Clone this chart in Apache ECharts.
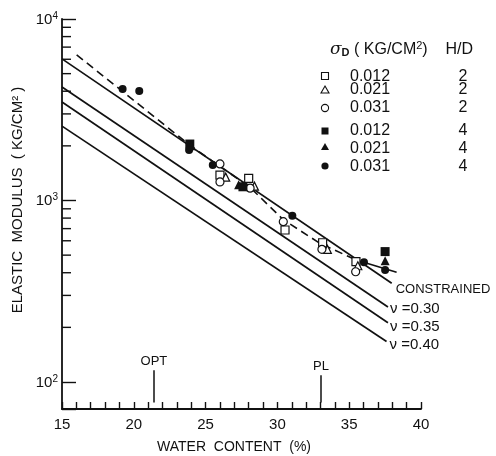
<!DOCTYPE html>
<html>
<head>
<meta charset="utf-8">
<script src="https://cdn.jsdelivr.net/npm/echarts@6/dist/echarts.min.js"></script>
<style>html,body{margin:0;padding:0;background:#fff;}#c{width:496px;height:456px;}</style>
</head>
<body>
<div id="c"></div>
<script>
// ---- axes ----
const xMin = 15, xMax = 40, xInterval = 5;
const yMin = 71, yMax = 10000;
const yMinorTicks = [200,300,400,500,600,700,800,900,2000,3000,4000,5000,6000,7000,8000,9000];

// ---- theoretical lines (water content %, modulus kg/cm2) ----
const lineNames = ['CONSTRAINED', 'ν =0.30', 'ν =0.35', 'ν =0.40'];
const lineConstrained = [[15, 6030], [37.96, 350]];
const lineNu030 = [[15, 4220], [37.7, 259]];
const lineNu035 = [[15, 3490], [37.7, 212]];
const lineNu040 = [[15, 2570], [37.6, 167]];

// ---- dashed trend through data, and short solid tail ----
const dashedTrend = [[16.02, 6350], [24, 1990], [28.1, 1180], [30.4, 785], [33, 578], [35.3, 478]];
const solidTail = [[36.0, 457], [38.3, 402]];

// ---- measured points: sigma_D (kg/cm2), H/D ----
const openSquare_0012_2 = [[26.0, 1380], [28.0, 1325], [30.53, 688], [33.15, 585], [35.47, 460]];
const openTriangle_0021_2 = [[26.4, 1345], [28.4, 1200], [33.48, 538], [35.6, 437]];
const openCircle_0031_2 = [[26.0, 1590], [26.0, 1265], [28.1, 1170], [30.41, 764], [33.1, 538], [35.45, 405]];
const filledSquare_0012_4 = [[23.9, 2047], [27.6, 1190], [37.5, 523]];
const filledTriangle_0021_4 = [[24.0, 2000], [27.3, 1220], [37.5, 466]];
const filledCircle_0031_4 = [[19.22, 4110], [20.38, 4010], [23.85, 1900], [25.5, 1570], [31.04, 824], [36.03, 457], [37.5, 414]];

// ---- reference markers ----
const markerNames = ['OPT', 'PL'];
const markerX = [21.4, 33.04];
const markerTop = [116, 109];
const markerBottom = [77, 77];

// ---- legend table ----
const legendStress = ['0.012', '0.021', '0.031', '0.012', '0.021', '0.031'];
const legendHD = ['2', '2', '2', '4', '4', '4'];
const legendShape = ['rect', 'triangle', 'circle', 'rect', 'triangle', 'circle'];
const legendFilled = [false, false, false, true, true, true];

const INK = '#111';
const FONT = 'Liberation Sans';

const chart = echarts.init(document.getElementById('c'), null, {renderer: 'canvas'});

function lineSeries(name, data, lbl, fs) {
  return {
    type: 'line', name: name, data: data, symbol: 'none', silent: true,
    lineStyle: {color: INK, width: 1.7},
    endLabel: {show: true, formatter: name, color: INK, fontFamily: FONT, fontSize: fs,
      align: 'left', verticalAlign: 'middle', offset: lbl, distance: 0},
    z: 3
  };
}
function scatterSeries(name, data, symbol, filled, size) {
  return {
    type: 'scatter', name: name, data: data, symbol: symbol, symbolSize: size,
    itemStyle: {color: filled ? INK : '#fff', borderColor: INK, borderWidth: filled ? 0 : 1.2, opacity: 1},
    z: 5
  };
}

// legend graphics
const rowY = [77, 90, 108, 131, 149, 167];
const symY = [76, 90, 108, 131, 147, 166];
const graphics = [];
graphics.push({
  type: 'text', left: 330, top: 40,
  style: {
    text: '{sig|σ}{sub|D}{t| ( KG/CM}{sup|2}{t|)    H/D}',
    fill: INK,
    rich: {
      sig: {fontFamily: 'DejaVu Serif', fontStyle: 'italic', fontSize: 17, lineHeight: 18, verticalAlign: 'bottom', fill: INK},
      sub: {fontFamily: FONT, fontWeight: 'bold', fontSize: 11, lineHeight: 11, verticalAlign: 'bottom', fill: INK},
      sup: {fontFamily: FONT, fontSize: 11, lineHeight: 11, verticalAlign: 'top', fill: INK},
      t: {fontFamily: FONT, fontSize: 16, lineHeight: 18, verticalAlign: 'bottom', fill: INK}
    }
  }
});
for (let i = 0; i < legendStress.length; i++) {
  const cx = 325, cy = symY[i];
  const st = {fill: legendFilled[i] ? INK : '#fff', stroke: INK, lineWidth: legendFilled[i] ? 0 : 1.1};
  if (legendShape[i] === 'rect') {
    graphics.push({type: 'rect', shape: {x: cx - 3.5, y: cy - 3.5, width: 7, height: 7}, style: st});
  } else if (legendShape[i] === 'triangle') {
    graphics.push({type: 'polygon', shape: {points: [[cx, cy - 4], [cx + 4, cy + 3], [cx - 4, cy + 3]]}, style: st});
  } else {
    graphics.push({type: 'circle', shape: {cx: cx, cy: cy, r: 3.6}, style: st});
  }
  graphics.push({type: 'text', x: 350, y: rowY[i], style: {text: legendStress[i], fill: INK, font: '16px ' + FONT, textVerticalAlign: 'middle'}});
  graphics.push({type: 'text', x: 463, y: rowY[i], style: {text: legendHD[i], fill: INK, font: '16px ' + FONT, textAlign: 'center', textVerticalAlign: 'middle'}});
}
// axis names
graphics.push({type: 'text', x: 234, y: 447, style: {text: 'WATER  CONTENT  (%)', fill: INK, font: '14px ' + FONT, textAlign: 'center', textVerticalAlign: 'middle'}});
graphics.push({type: 'text', x: 18, y: 200, rotation: Math.PI / 2, style: {text: 'ELASTIC  MODULUS  ( KG/CM² )', fill: INK, font: '15px ' + FONT, textAlign: 'center', textVerticalAlign: 'middle'}});

const markLines = markerNames.map((n, i) => [
  {coord: [markerX[i], markerTop[i]], name: n},
  {coord: [markerX[i], markerBottom[i]]}
]);

const option = {
  backgroundColor: '#fff',
  animation: false,
  grid: {left: 62, right: 75, top: 19, bottom: 47, containLabel: false},
  xAxis: {
    type: 'value', min: xMin, max: xMax, interval: xInterval,
    axisLine: {show: true, lineStyle: {color: INK, width: 1.8}},
    axisTick: {show: true, inside: true, length: 7, lineStyle: {color: INK, width: 1.4}},
    minorTick: {show: true, splitNumber: 5, length: 7, lineStyle: {color: INK, width: 1.4}},
    axisLabel: {color: INK, fontFamily: FONT, fontSize: 15, margin: 8},
    splitLine: {show: false}
  },
  yAxis: {
    type: 'log', logBase: 10, min: yMin, max: yMax,
    axisLine: {show: true, lineStyle: {color: INK, width: 1.8}},
    axisTick: {show: true, inside: true, length: 14, lineStyle: {color: INK, width: 1.4}},
    minorTick: {show: false},
    axisLabel: {
      margin: 4,
      formatter: function (v) {
        const l = Math.log10(v), e = Math.round(l);
        if (Math.abs(l - e) > 1e-6) return '';
        return '{b|10}{s|' + e + '}';
      },
      rich: {
        b: {fontFamily: FONT, fontSize: 15, lineHeight: 16, verticalAlign: 'bottom', color: INK},
        s: {fontFamily: FONT, fontSize: 10, lineHeight: 10, verticalAlign: 'top', color: INK}
      }
    },
    splitLine: {show: false}
  },
  graphic: graphics,
  series: [
    {
      type: 'custom', name: 'yMinor', silent: true, z: 2,
      data: yMinorTicks.map(v => [xMin, v]),
      renderItem: function (params, api) {
        const p = api.coord([api.value(0), api.value(1)]);
        return {type: 'line', shape: {x1: p[0], y1: p[1], x2: p[0] + 9, y2: p[1]}, style: {stroke: INK, lineWidth: 1.4}};
      }
    },
    lineSeries(lineNames[0], lineConstrained, [4, 6], 13),
    lineSeries(lineNames[1], lineNu030, [2, 2], 15),
    lineSeries(lineNames[2], lineNu035, [2, 4], 15),
    lineSeries(lineNames[3], lineNu040, [3, 3], 15),
    {type: 'line', name: 'trend', data: dashedTrend, symbol: 'none', silent: true, lineStyle: {color: INK, width: 1.6, type: [8, 5]}, z: 3},
    {type: 'line', name: 'tail', data: solidTail, symbol: 'none', silent: true, lineStyle: {color: INK, width: 1.6}, z: 3},
    scatterSeries('0.012 / 2', openSquare_0012_2, 'rect', false, 8),
    scatterSeries('0.021 / 2', openTriangle_0021_2, 'triangle', false, 8),
    scatterSeries('0.031 / 2', openCircle_0031_2, 'circle', false, 8),
    scatterSeries('0.012 / 4', filledSquare_0012_4, 'rect', true, 9),
    scatterSeries('0.021 / 4', filledTriangle_0021_4, 'triangle', true, 9),
    scatterSeries('0.031 / 4', filledCircle_0031_4, 'circle', true, 8),
    {
      type: 'scatter', name: 'markers', data: [], silent: true,
      markLine: {
        silent: true, symbol: ['none', 'arrow'], symbolSize: [0, 6],
        lineStyle: {color: INK, width: 1.5, type: 'solid'},
        label: {show: true, position: 'start', formatter: '{b}', color: INK, fontFamily: FONT, fontSize: 13, distance: 2},
        data: markLines
      }
    }
  ]
};
chart.setOption(option);
</script>
</body>
</html>
